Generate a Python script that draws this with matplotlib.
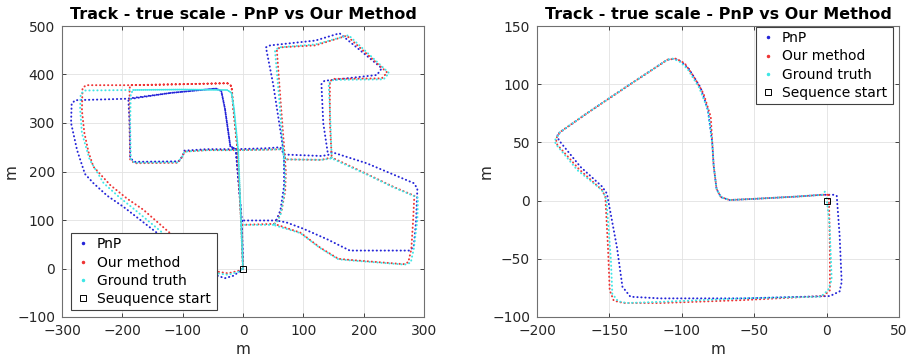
import numpy as np
import matplotlib
matplotlib.use('Agg')
import matplotlib.pyplot as plt
from matplotlib.lines import Line2D

# ---- left plot: waypoints (None = break in track) ----
pnp_left = [(0, 0), (-2, 98), (-12, 246), (-21, 252), (-30, 330), (-36, 366), (-45, 371),
            (-120, 362), (-193, 350), (-278, 347), (-284, 340), (-285, 300), (-275, 244),
            (-262, 195), (-248, 176), (-225, 150), (-198, 127), (-168, 98), (-138, 69),
            (-110, 44), (-80, 18), (-58, -6), (-42, -15), (-30, -20), (-16, -15),
            (-2, -3), (0, 0),
            (-2, 98), (-12, 246), (-60, 246), (-97, 243), (-100, 232), (-107, 221),
            (-180, 220), (-187, 228), (-188, 300), (-190, 349), (-120, 362), (-45, 371),
            (-36, 366), (-30, 330), (-21, 252), (-12, 246), (40, 248), (62, 250), (68, 235),
            (130, 232), (141, 234), (147, 240), (205, 217), (283, 176), (289, 165),
            (287, 100), (283, 45), (276, 37), (177, 37), (140, 60), (100, 82), (72, 95),
            (55, 99), (62, 120), (68, 170), (68, 232), (64, 268), (50, 380), (38, 456),
            (45, 460), (120, 470), (160, 485), (230, 413), (222, 399), (135, 387),
            (130, 380), (133, 300), (141, 234),
            None, (55, 99), (0, 99)]

ours_left = [(0, 0), (-3, 90), (-9, 244), (-16, 330), (-19, 376), (-26, 382), (-100, 380),
             (-187, 378), (-260, 378), (-266, 372), (-267, 326), (-263, 280), (-256, 240),
             (-248, 210), (-220, 172), (-192, 144), (-165, 121), (-121, 73), (-88, 40),
             (-60, 6), (-40, -7), (-25, -10), (-8, -5), (0, 0),
             (-3, 90), (-9, 244), (-60, 244), (-97, 241), (-101, 230), (-108, 218),
             (-180, 217), (-187, 225), (-188, 300), (-188, 370), (-187, 378), (-100, 380),
             (-26, 382), (-19, 376), (-16, 330), (-9, 244), (40, 245), (66, 246), (70, 225),
             (130, 224), (147, 229), (200, 198), (250, 168), (284, 150), (282, 100),
             (279, 40), (274, 13), (266, 9), (175, 18), (158, 20), (128, 43), (95, 74),
             (52, 92), (58, 100), (64, 120), (70, 160), (71, 200), (68, 252), (62, 350),
             (56, 452), (62, 456), (120, 460), (172, 480), (239, 404), (230, 392),
             (150, 391), (144, 386), (144, 300), (147, 229),
             None, (52, 92), (-3, 90)]

gt_left = [(0, 0), (-3, 90), (-8, 244), (-15, 330), (-19, 362), (-26, 368), (-100, 369),
           (-187, 368), (-262, 367), (-269, 360), (-270, 330), (-267, 279), (-254, 224),
           (-231, 176), (-205, 147), (-182, 124), (-155, 96), (-129, 69), (-95, 38),
           (-65, 6), (-42, -10), (-25, -13), (-8, -7), (0, 0),
           (-3, 90), (-8, 244), (-60, 244), (-97, 241), (-101, 230), (-108, 219),
           (-180, 218), (-186, 226), (-187, 300), (-186, 362), (-180, 368), (-100, 369),
           (-26, 368), (-19, 362), (-15, 330), (-8, 244), (40, 245), (66, 246), (70, 225),
           (130, 224), (147, 227), (200, 197), (250, 167), (290, 146), (289, 100),
           (283, 40), (278, 12), (268, 8), (175, 17), (158, 19), (128, 42), (95, 73),
           (50, 90), (56, 95), (62, 110), (68, 150), (70, 190), (66, 250), (60, 350),
           (53, 450), (60, 456), (120, 462), (175, 481), (242, 403), (233, 390),
           (150, 389), (142, 382), (145, 300), (147, 227),
           None, (50, 90), (-3, 90)]

# ---- right plot ----
pnp_right = [(7, 4), (9, -30), (10.4, -70), (9, -78), (2.3, -82), (-58, -84), (-115, -84),
             (-135.5, -82.6), (-141, -74), (-144.8, -40), (-151.7, 6), (-155, 12),
             (-170, 29), (-185, 52), (-186, 57), (-165.5, 75), (-138, 98), (-110, 121),
             (-105, 122), (-100, 119), (-95, 113), (-87, 97), (-82, 78), (-79, 50),
             (-78, 30), (-76, 10), (-73, 3), (-67, 0.5), (-50, 1.5), (-20, 3.5), (-3, 5),
             (7, 5)]

ours_right = [(1.5, 5), (2, -20), (2.3, -50), (2.3, -77), (-2.3, -82), (-58, -85.5),
              (-115, -88), (-140, -88), (-147, -86), (-149.8, -77), (-151, -40),
              (-152.8, 3), (-155, 9), (-171, 27), (-186, 48), (-187, 53), (-184, 59),
              (-165.5, 75), (-138, 98), (-110, 121), (-104, 122), (-98, 118), (-92, 107),
              (-85, 92), (-80, 72), (-78, 30), (-76, 10), (-73, 3), (-67, 0.5), (-50, 1.5),
              (-20, 3.5), (-3, 5), (1.5, 5)]

gt_right = [(0, 2), (2, -20), (3, -50), (3.5, -68), (1, -77), (-4, -82.5), (-58, -84),
            (-115, -87), (-138, -88), (-144, -86.5), (-148, -80), (-149, -50),
            (-150.5, -25), (-152, 0), (-154, 7), (-157, 11), (-172, 26), (-186, 47),
            (-188, 51), (-184, 59), (-165.5, 75), (-138, 98), (-110, 121), (-106, 122),
            (-101, 119), (-96, 113), (-88, 97), (-82, 78), (-79, 50), (-78, 30), (-76, 10),
            (-73, 3), (-67, 0.5), (-50, 1.5), (-20, 3.5), (-3, 5), (-1, 8)]

start_point = (0, 0)


def to_xy(track):
    pts = np.array([(np.nan, np.nan) if p is None else p for p in track], dtype=float)
    return pts[:, 0], pts[:, 1]


def draw_track(ax, tracks, xlim, ylim, xticks, yticks, start_label, legend_box):
    colors = ['#2525d8', '#ee3535', '#3ee6e6']
    for track, c in zip(tracks, colors):
        x, y = to_xy(track)
        ax.plot(x, y, color=c, lw=1.4, ls=(0, (0.15, 1.9)), dash_capstyle='round')
    ax.plot(*start_point, 's', ms=4, mfc='none', mec='k', mew=0.7)
    ax.set_xlim(xlim)
    ax.set_ylim(ylim)
    ax.set_xticks(xticks)
    ax.set_yticks(yticks)
    ax.grid(True, color='#e2e2e2', lw=0.6)
    ax.set_axisbelow(True)
    ax.tick_params(direction='in', top=True, right=True, length=3, width=0.6,
                   labelsize=10, colors='#262626', pad=5)
    for s in ax.spines.values():
        s.set_color('#707070')
        s.set_linewidth(0.8)
    ax.set_xlabel('m', fontsize=11, color='#262626', labelpad=3)
    ax.set_ylabel('m', fontsize=11, color='#262626', labelpad=-1)
    ax.set_title('Track - true scale - PnP vs Our Method', fontsize=11.5,
                 fontweight='bold', pad=5)
    handles = [Line2D([], [], ls='none', marker='.', ms=3, color=colors[0]),
               Line2D([], [], ls='none', marker='.', ms=3, color=colors[1]),
               Line2D([], [], ls='none', marker='.', ms=3, color=colors[2]),
               Line2D([], [], ls='none', marker='s', ms=4, mfc='none', mec='k', mew=0.7)]
    labels = ['PnP', 'Our method', 'Ground truth', start_label]
    leg = ax.legend(handles, labels, loc='lower left', bbox_to_anchor=legend_box,
                    mode='expand', fontsize=10, frameon=True, fancybox=False,
                    framealpha=1, edgecolor='#404040', handlelength=1.2,
                    handletextpad=0.4, labelspacing=0.3, borderpad=0.3,
                    borderaxespad=0)
    leg.get_frame().set_linewidth(0.8)


fig = plt.figure(figsize=(9.19, 3.61), dpi=100)
ax1 = fig.add_axes([62 / 919, 44 / 361, 362 / 919, 291 / 361])
ax2 = fig.add_axes([537 / 919, 44 / 361, 362 / 919, 291 / 361])

draw_track(ax1, [pnp_left, ours_left, gt_left], (-300, 300), (-100, 500),
           range(-300, 301, 100), range(-100, 501, 100), 'Seuquence start',
           (0.024, 0.024, 0.403, 0.248))
draw_track(ax2, [pnp_right, ours_right, gt_right], (-200, 50), (-100, 150),
           range(-200, 51, 50), range(-100, 151, 50), 'Sequence start',
           (0.604, 0.732, 0.379, 0.246))

fig.savefig('out.png', dpi=100)
